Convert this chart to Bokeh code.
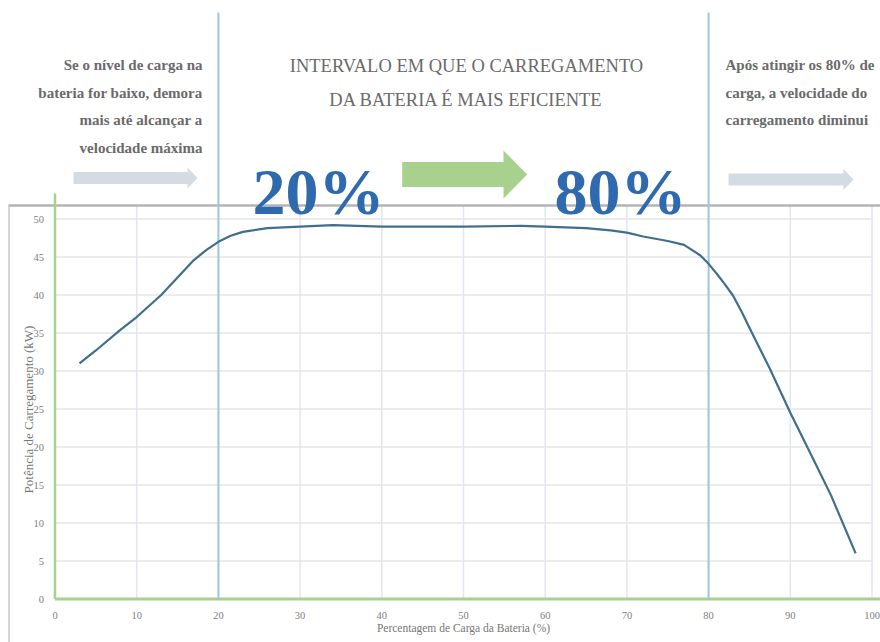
from bokeh.plotting import figure
from bokeh.models import LinearAxis, FixedTicker, Range1d
from bokeh.core.properties import value
from bokeh.embed import file_html
from bokeh.resources import INLINE

# ---- data ----
charge_pct = [3, 5, 8, 10, 13, 17, 18.5, 20, 21.5, 23, 26, 30, 34, 40, 50, 57, 60,
              65, 68, 70, 72, 75, 77, 79, 80, 81, 82, 83, 84, 85.5, 87.5, 90, 93,
              95, 98]
power_kw = [31.0, 32.7, 35.4, 37.1, 40.0, 44.6, 45.9, 47.0, 47.8, 48.3, 48.8, 49.0,
            49.2, 49.0, 49.0, 49.1, 49.0, 48.8, 48.5, 48.2, 47.7, 47.1, 46.6, 45.2,
            44.1, 42.8, 41.4, 39.9, 37.9, 34.6, 30.3, 24.5, 18.0, 13.6, 6.0]
x_ticks = [0, 10, 20, 30, 40, 50, 60, 70, 80, 90, 100]
y_ticks = [0, 5, 10, 15, 20, 25, 30, 35, 40, 45, 50]
marker_pct = [20, 80]
x_title = "Percentagem de Carga da Bateria (%)"
y_title = "Potência de Carregamento (kW)"
header_lines = ["INTERVALO EM QUE O CARREGAMENTO", "DA BATERIA É MAIS EFICIENTE"]
left_lines = ["Se o nível de carga na", "bateria for baixo, demora",
              "mais até alcançar a", "velocidade máxima"]
right_lines = ["Após atingir os 80% de", "carga, a velocidade do",
               "carregamento diminui"]
big_labels = ["20%", "80%"]

# ---- layout helpers (page pixel -> data); the figure sits at page (0, 0) ----
W, H = 880, 642
X0PX, XS = 54.5, 8.17     # page px of x=0, px per unit
Y0PX, YS = 598.5, 7.6     # page px of y=0, px per unit
def px2x(px):
    return (px - X0PX) / XS
def px2y(py):
    return (Y0PX - py) / YS

x_start, x_end = px2x(0), px2x(W)
y_start, y_end = px2y(H), px2y(0)

SERIF = value("Liberation Serif")
TEXT_GRAY = "#6a6a6a"

p = figure(width=W, height=H, output_backend="svg", toolbar_location=None,
           x_axis_type=None, y_axis_type=None,
           x_range=Range1d(x_start, x_end), y_range=Range1d(y_start, y_end),
           min_border=0, min_border_left=0, min_border_right=0,
           min_border_top=0, min_border_bottom=0)
p.outline_line_color = None
p.background_fill_color = "white"
p.xgrid.visible = False
p.ygrid.visible = False

# axes placed at the data origin
yax = LinearAxis(ticker=FixedTicker(ticks=y_ticks), fixed_location=0)
xax = LinearAxis(ticker=FixedTicker(ticks=x_ticks), fixed_location=0)
for ax in (xax, yax):
    ax.axis_line_color = None
    ax.major_tick_line_color = None
    ax.minor_tick_line_color = None
    ax.major_label_text_font = "Liberation Serif"
    ax.major_label_text_font_size = "10.5px"
    ax.major_label_text_color = "#808080"
yax.major_label_standoff = 5
xax.major_label_standoff = 7
p.add_layout(yax, "left")
p.add_layout(xax, "below")

# grid lines
grid_top = px2y(205)
p.segment(x0=0, x1=x_ticks[-1], y0=y_ticks[1:], y1=y_ticks[1:],
          line_color="#e6e6e6", line_width=1.5)
vg = [t for t in x_ticks[1:] if t not in marker_pct]
p.segment(x0=vg, x1=vg, y0=0, y1=grid_top, line_color="#e3e6f0", line_width=1.5)

# outer gray frame
p.segment(x0=px2x(8), x1=x_end, y0=grid_top, y1=grid_top,
          line_color="#b4b4b4", line_width=2.5)
p.segment(x0=px2x(8.5), x1=px2x(8.5), y0=grid_top, y1=y_start,
          line_color="#c8c8c8", line_width=1.5)

# green axes lines
p.segment(x0=0, x1=0, y0=0, y1=px2y(193), line_color="#a9d18e", line_width=2.5)
p.segment(x0=0, x1=x_end, y0=0, y1=0, line_color="#a9d18e", line_width=3)

# blue markers at 20% and 80%
p.segment(x0=marker_pct, x1=marker_pct, y0=0, y1=px2y(12),
          line_color="#9dc3e6", line_width=2)

# the curve
p.line(charge_pct, power_kw, line_color="#3f6f8c", line_width=2.2,
       line_join="round")

# axis titles
p.text(x=[50], y=[px2y(627)], text=[x_title], text_font=SERIF,
       text_font_size="11.5px", text_color="#777777",
       text_align="center", text_baseline="middle")
p.text(x=[px2x(28)], y=[px2y(409)], text=[y_title], text_font=SERIF,
       text_font_size="13px", text_color="#777777", angle=1.5708,
       text_align="center", text_baseline="middle")

# header
p.text(x=[px2x(466)] * 2, y=[px2y(65), px2y(99)], text=header_lines,
       text_font=SERIF, text_font_size="18.5px", text_color=TEXT_GRAY,
       text_align="center", text_baseline="middle")
p.text(x=[px2x(202)] * 4, y=[px2y(v) for v in (64, 92, 119, 147)], text=left_lines,
       text_font=SERIF, text_font_size="15px", text_font_style="bold",
       text_color=TEXT_GRAY, text_align="right", text_baseline="middle")
p.text(x=[px2x(725)] * 3, y=[px2y(v) for v in (64, 92, 119)], text=right_lines,
       text_font=SERIF, text_font_size="15px", text_font_style="bold",
       text_color=TEXT_GRAY, text_align="left", text_baseline="middle")
p.text(x=[px2x(318), px2x(620)], y=[px2y(191)] * 2, text=big_labels,
       text_font=SERIF, text_font_size="66px", text_font_style="bold",
       text_color="#2e6aad", text_align="center", text_baseline="alphabetic")

# arrows (shape in page px)
def arrow(x_a, x_b, x_tip, yc, half_shaft, half_head):
    xs = [x_a, x_b, x_b, x_tip, x_b, x_b, x_a]
    ys = [yc - half_shaft, yc - half_shaft, yc - half_head, yc,
          yc + half_head, yc + half_shaft, yc + half_shaft]
    return [px2x(v) for v in xs], [px2y(v) for v in ys]

ax1 = arrow(73, 187, 197, 177.5, 6, 10.5)
ax2 = arrow(401.7, 503, 526.7, 174, 12.5, 24)
ax3 = arrow(728, 843, 853, 179, 6, 10.5)
p.patches(xs=[ax1[0], ax3[0]], ys=[ax1[1], ax3[1]], fill_color="#d5dbe3",
          line_color=None)
p.patch(ax2[0], ax2[1], fill_color="#a9d18e", line_color=None)

open("out.html", "w").write(file_html(p, INLINE))
